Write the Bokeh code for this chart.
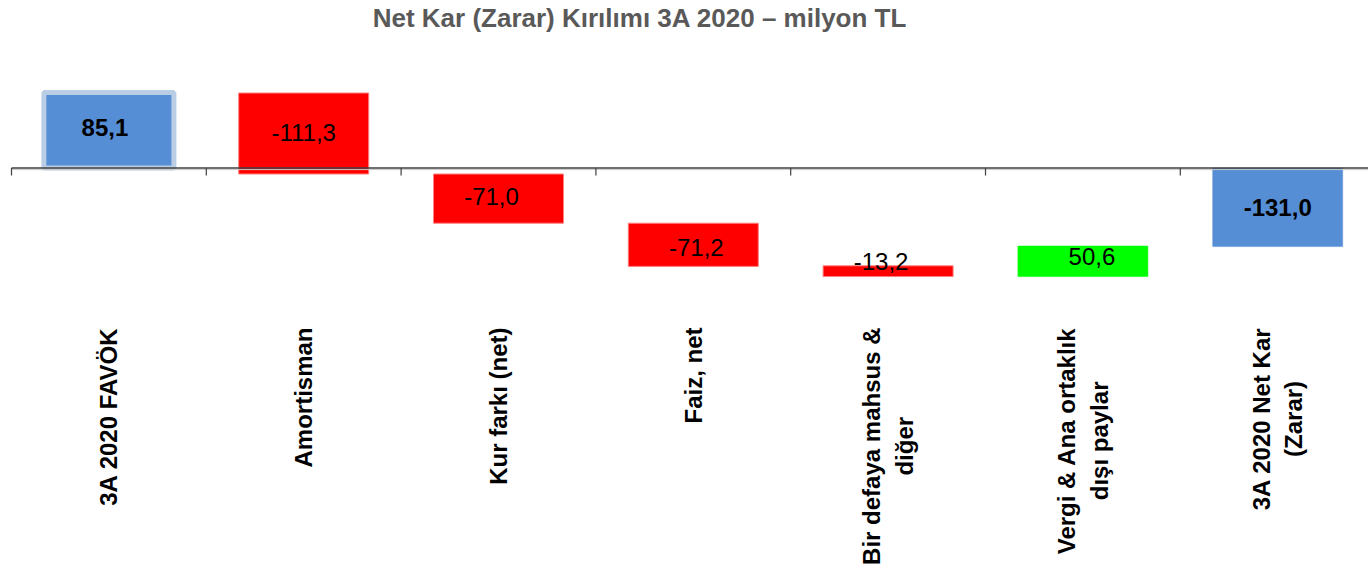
import math
from bokeh.plotting import figure
from bokeh.models import ColumnDataSource, Range1d
from bokeh.core.properties import value
from bokeh.embed import file_html
from bokeh.resources import INLINE

# ---------------- data ----------------
title_text = "Net Kar (Zarar) Kırılımı 3A 2020 – milyon TL"
categories = [
    "3A 2020 FAVÖK",
    "Amortisman",
    "Kur farkı (net)",
    "Faiz, net",
    "Bir defaya mahsus &\ndiğer",
    "Vergi & Ana ortaklık\ndışı paylar",
    "3A 2020 Net Kar\n(Zarar)",
]
values = [85.1, -111.3, -71.0, -71.2, -13.2, 50.6, -131.0]
value_labels = ["85,1", "-111,3", "-71,0", "-71,2", "-13,2", "50,6", "-131,0"]
# bar extents as drawn in the picture (the original chart is not to scale)
bar_bottom = [0, -10, -92, -164, -181, -181, 0]
bar_top = [126, 125, -10, -92, -163, -130, -131]
bar_kind = ["total", "neg", "neg", "neg", "neg", "pos", "total"]

# ---------------- styles ----------------
FONT = "Liberation Sans"
W, H = 1368, 564
PX_PER_CAT = 194.8
X0_PX = 11.0         # left edge of first category within canvas
ZERO_PX = 167.5      # zero line from canvas top
K = 0.6              # px per unit
fill_of = {"total": "#558ED5", "neg": "#FF0000", "pos": "#00FF00"}
line_of = {"total": "#558ED5", "neg": "#FF8080", "pos": "#00FF00"}
lw_of = {"total": 0.5, "neg": 1.0, "pos": 0.5}
label_dx = [-4, 0, -7, 3, -7, 9, 0]
label_dy = [-3, -1.5, -2, 3, -10, -5, 0]

n = len(categories)
xc = [i + 0.5 for i in range(n)]
fills = [fill_of[k] for k in bar_kind]
lines = [line_of[k] for k in bar_kind]
lws = [lw_of[k] for k in bar_kind]
lines[0] = "#B9CDE5"
lws[0] = 5

p = figure(
    width=W, height=H, output_backend="svg", toolbar_location=None,
    x_range=Range1d(-X0_PX / PX_PER_CAT, (W - X0_PX) / PX_PER_CAT),
    y_range=Range1d(-(H - ZERO_PX) / K, ZERO_PX / K),
    x_axis_location=None, y_axis_location=None, min_border=0,
)
p.grid.visible = False
p.outline_line_color = None
p.background_fill_color = "white"
p.border_fill_color = "white"

src = ColumnDataSource(dict(x=xc, bottom=bar_bottom, top=bar_top, fill=fills,
                            line=lines, lw=lws))
p.vbar(x="x", bottom="bottom", top="top", width=130 / PX_PER_CAT, source=src,
       fill_color="fill", line_color="line", line_width="lw")

# category axis at zero
xs0 = p.x_range.start + X0_PX / PX_PER_CAT
xs1 = p.x_range.end
p.segment(x0=[xs0], y0=[-1.6 / K], x1=[xs1], y1=[-1.6 / K], line_color="#C8C8C8", line_width=1)
p.segment(x0=[xs0], y0=[0], x1=[xs1], y1=[0], line_color="#404040", line_width=1.6)
ticks = list(range(n + 1))
p.segment(x0=ticks, y0=[0] * len(ticks), x1=ticks, y1=[-7.5 / K] * len(ticks),
          line_color="#404040", line_width=1.2)

# value labels
mid = [(b + t) / 2 for b, t in zip(bar_bottom, bar_top)]
for kind_set, style in ((("total",), "bold"), (("neg", "pos"), "normal")):
    idx = [i for i in range(n) if bar_kind[i] in kind_set]
    s = ColumnDataSource(dict(
        x=[xc[i] for i in idx], y=[mid[i] for i in idx],
        t=[value_labels[i] for i in idx],
        dx=[label_dx[i] for i in idx], dy=[label_dy[i] for i in idx]))
    p.text(x="x", y="y", text="t", source=s, x_offset="dx", y_offset="dy",
           text_align="center", text_baseline="middle",
           text_font=value(FONT), text_font_size="24px", text_font_style=style,
           text_color="black")

# category labels (rotated)
p.text(x=xc, y=[-(327 - ZERO_PX) / K] * n, text=categories, angle=math.pi / 2,
       anchor="center_right", text_align="center", text_line_height=1.2,
       text_font=value(FONT), text_font_size="24px", text_font_style="bold",
       text_color="black")

# title
p.text(x=[(639.5 - X0_PX) / PX_PER_CAT], y=[(ZERO_PX - 17) / K], text=[title_text],
       text_align="center", text_baseline="alphabetic",
       text_font=value(FONT), text_font_size="26px", text_font_style="bold",
       text_color="#595959")

open("out.html", "w").write(file_html(p, INLINE))
